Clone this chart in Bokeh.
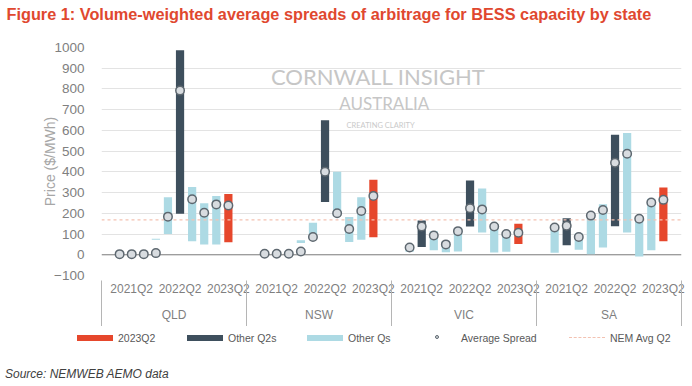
from bokeh.plotting import figure
from bokeh.layouts import column
from bokeh.models import (FixedTicker, LinearAxis, Range1d, Span, Label, Title,
                          ColumnDataSource, Div)
from bokeh.embed import file_html
from bokeh.resources import INLINE

nan = float("nan")

# ---------------- data ----------------
states = ["QLD", "NSW", "VIC", "SA"]
quarters = ["2021Q1", "2021Q2", "2021Q3", "2021Q4", "2022Q1",
            "2022Q2", "2022Q3", "2022Q4", "2023Q1", "2023Q2"]
latest_q = "2023Q2"

qld_avg = [3, 3, 3, 8, 184, 792, 268, 203, 243, 238]
qld_low = [nan, nan, nan, 72, 100, 198, 65, 50, 50, 60]
qld_high = [nan, nan, nan, 77, 278, 987, 327, 248, 284, 293]

nsw_avg = [5, 5, 5, 16, 86, 400, 200, 124, 211, 284]
nsw_low = [nan, nan, nan, 57, 90, 255, 205, 62, 73, 84]
nsw_high = [nan, nan, nan, 70, 154, 649, 400, 182, 278, 362]

vic_avg = [35, 136, 93, 50, 114, 225, 219, 136, 100, 106]
vic_low = [15, 38, 22, 12, 16, 136, 108, 11, 14, 52]
vic_high = [38, 165, 114, 67, 122, 358, 320, 149, 98, 150]

sa_avg = [132, 140, 86, 189, 216, 444, 487, 174, 252, 265]
sa_low = [10, 46, 24, 2, 35, 138, 108, -8, 22, 65]
sa_high = [141, 176, 103, 178, 244, 579, 587, 186, 270, 324]

nem_avg_q2 = 168

y_ticks = list(range(-100, 1001, 100))

title_text = "Figure 1: Volume-weighted average spreads of arbitrage for BESS capacity by state"
source_text = "Source: NEMWEB AEMO data"
legend_labels = ["2023Q2", "Other Q2s", "Other Qs", "Average Spread", "NEM Avg Q2"]

# ---------------- styling ----------------
RED = "#E6472C"
DARK = "#3E4F5D"
LIGHT = "#ADDAE4"
TITLE_RED = "#E0482F"
NEM_COL = "#F3C2B2"
PT_FILL = "#D8DCE0"
PT_LINE = "#5E6870"
FONT = "Liberation Sans"
W = 692

state_data = {
    "QLD": (qld_low, qld_high, qld_avg),
    "NSW": (nsw_low, nsw_high, nsw_avg),
    "VIC": (vic_low, vic_high, vic_avg),
    "SA": (sa_low, sa_high, sa_avg),
}

pad = 1
slots = len(quarters) + 2 * pad
n_total = slots * len(states)

bx, bl, bh, bc = [], [], [], []
px, pavg = [], []
q_ticks, q_labels = [], {}
for g, st in enumerate(states):
    low, high, avg = state_data[st]
    for i, q in enumerate(quarters):
        x = g * slots + pad + i + 0.5
        if q == latest_q:
            col = RED
        elif q.endswith("Q2"):
            col = DARK
        else:
            col = LIGHT
        if low[i] == low[i] and high[i] == high[i]:
            bx.append(x); bl.append(low[i]); bh.append(high[i]); bc.append(col)
        px.append(x); pavg.append(avg[i])
        if q.endswith("Q2"):
            q_ticks.append(x)
            q_labels[x] = q

state_ticks = [g * slots + slots / 2 for g in range(len(states))]
state_labels = {t: s for t, s in zip(state_ticks, states)}
separators = [g * slots for g in range(len(states) + 1)]

bar_src = ColumnDataSource(dict(x=bx, bottom=bl, top=bh, color=bc))
pt_src = ColumnDataSource(dict(x=px, y=pavg))

# ---------------- main chart ----------------
p = figure(width=W, height=326, title=None,
           x_range=Range1d(0, n_total), y_range=Range1d(-100, 1000),
           output_backend="svg", toolbar_location=None, x_axis_location=None,
           min_border_left=101, min_border_right=11, min_border_top=47,
           min_border_bottom=48)
p.outline_line_color = None
p.background_fill_color = "white"
p.border_fill_color = "white"

# title: a spacer title next to the frame, then the real title above it
spacer = Title(text=" ", text_font_size="1px", standoff=22)
p.add_layout(spacer, "above")
main_title = Title(text=title_text, align="left", offset=-95, standoff=0,
                   vertical_align="bottom", text_font=FONT, text_font_size="16.3px",
                   text_font_style="bold", text_color=TITLE_RED)
p.add_layout(main_title, "above")

p.xgrid.visible = False
p.ygrid.ticker = FixedTicker(ticks=[t for t in y_ticks if t > 0])
p.ygrid.grid_line_color = "#E3E3E3"
p.ygrid.grid_line_width = 1

ya = p.yaxis[0]
ya.ticker = FixedTicker(ticks=y_ticks)
ya.axis_line_color = None
ya.major_tick_line_color = None
ya.minor_tick_line_color = None
ya.major_label_standoff = 11
ya.major_label_text_font = FONT
ya.major_label_text_font_size = "13.5px"
ya.major_label_text_color = "#808080"
ya.axis_label = "Price ($/MWh)"
ya.axis_label_text_font = FONT
ya.axis_label_text_font_size = "14px"
ya.axis_label_text_font_style = "normal"
ya.axis_label_text_color = "#A6A6A6"
ya.axis_label_standoff = -7

p.add_layout(Span(location=0, dimension="width", line_color="#7A7A7A",
                  line_width=1, level="underlay"))

p.vbar(x="x", bottom="bottom", top="top", width=0.68, fill_color="color",
       line_color=None, source=bar_src)

p.line(x=[0, n_total], y=[nem_avg_q2, nem_avg_q2], line_color=NEM_COL,
       line_width=1.3, line_dash="3 3")

p.scatter(x="x", y="y", size=8.5, source=pt_src, fill_color=PT_FILL,
          line_color=PT_LINE, line_width=1.5)

# watermark
p.add_layout(Label(x=22.9, y=859, text="CORNWALL INSIGHT", text_align="center",
                   text_baseline="middle", text_font="Lato", text_font_size="22px",
                   text_color="#C6C6C6"))
p.add_layout(Label(x=23.4, y=729, text="AUSTRALIA", text_align="center",
                   text_baseline="middle", text_font="Lato", text_font_size="17px",
                   text_color="#C6C6C6"))
p.add_layout(Label(x=23.1, y=624, text="CREATING CLARITY", text_align="center",
                   text_baseline="middle", text_font="Lato", text_font_size="7.5px",
                   text_color="#CACACA"))

# quarter labels
ax1 = LinearAxis(ticker=FixedTicker(ticks=q_ticks), major_label_overrides=q_labels)
# state labels
ax2 = LinearAxis(ticker=FixedTicker(ticks=state_ticks), major_label_overrides=state_labels)
for ax, so in ((ax1, 6), (ax2, 9)):
    ax.axis_line_color = None
    ax.major_tick_line_color = None
    ax.minor_tick_line_color = None
    ax.major_tick_out = 0
    ax.major_tick_in = 0
    ax.minor_tick_out = 0
    ax.minor_tick_in = 0
    ax.major_label_standoff = so
    ax.major_label_text_font = FONT
    ax.major_label_text_font_size = "12px"
    ax.major_label_text_color = "#7F7F7F"
    p.add_layout(ax, "below")

# group separators (minor ticks pointing back up through the label rows)
ax3 = LinearAxis(ticker=FixedTicker(ticks=[], minor_ticks=separators))
ax3.axis_line_color = None
ax3.major_tick_line_color = None
ax3.major_tick_out = 0
ax3.major_tick_in = 0
ax3.minor_tick_out = 2
ax3.minor_tick_in = 44
ax3.minor_tick_line_color = "#B5B5B5"
ax3.major_label_text_font_size = "1px"
ax3.major_label_standoff = 0
p.add_layout(ax3, "below")

# ---------------- footer: legend + source ----------------
item_left = [77, 187, 307, 420, 569]
GW = 36
swatches = [
    f"background:{RED};height:6px;top:9px;",
    f"background:{DARK};height:6px;top:9px;",
    f"background:{LIGHT};height:6px;top:9px;",
    None,
    f"border-top:1.3px dashed {NEM_COL};height:0;top:11px;",
]
parts = []
for lab, left, sw in zip(legend_labels, item_left, swatches):
    if sw is None:
        parts.append(
            f'<span style="position:absolute;left:{left + GW / 2 - 3.3}px;top:8.7px;'
            f'width:4px;height:4px;border-radius:50%;background:{PT_FILL};'
            f'border:1.3px solid {PT_LINE};"></span>')
    else:
        parts.append(f'<span style="position:absolute;left:{left}px;width:{GW}px;{sw}"></span>')
    parts.append(
        f'<span style="position:absolute;left:{left + GW + 5}px;top:4px;line-height:16px;'
        f'font-size:10.5px;color:#595959;white-space:nowrap;">{lab}</span>')
parts.append(
    f'<span style="position:absolute;left:5px;top:40px;line-height:16px;font-size:12px;'
    f'font-style:italic;color:#404040;white-space:nowrap;">{source_text}</span>')
footer_html = (f'<div style="position:relative;width:{W}px;height:60px;'
               f'font-family:\'{FONT}\';">' + "".join(parts) + '</div>')
footer = Div(text=footer_html, width=W, height=60, margin=0)

layout = column(p, footer, spacing=0)
open("out.html", "w").write(file_html(layout, INLINE))
